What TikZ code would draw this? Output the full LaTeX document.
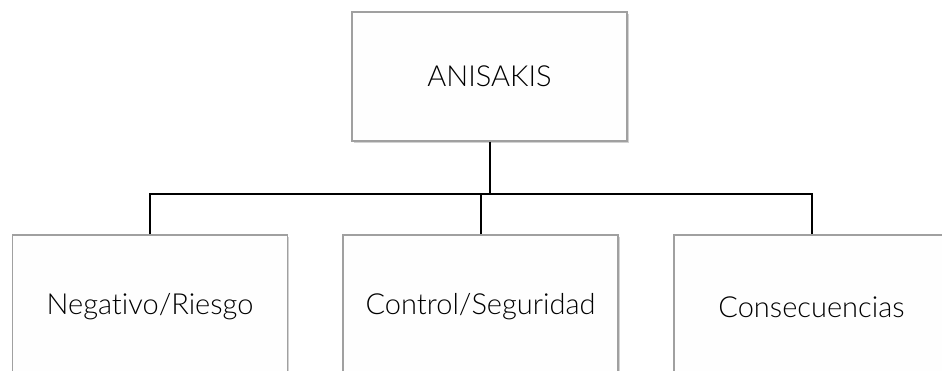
\documentclass[tikz,border=0pt]{standalone}
\usepackage{fontspec}
\setmainfont{Lato Light}[Ligatures={NoCommon}]
\usetikzlibrary{shadows}
\definecolor{boxborder}{HTML}{A0A0A0}
\definecolor{boxfill}{HTML}{FEFEFE}
\tikzset{
  orgbox/.style={draw=boxborder, line width=1.3pt, fill=boxfill,
    minimum width=275pt, minimum height=129pt, inner sep=0pt,
    font=\fontsize{29}{34}\selectfont,
    drop shadow={shadow xshift=1.5pt, shadow yshift=-2pt, opacity=0.35, fill=gray}},
  lowbox/.style={orgbox, minimum height=144pt},
  link/.style={draw=black, line width=2pt}
}
\begin{document}
\begin{tikzpicture}[x=1pt,y=1pt]
\useasboundingbox (0,0) rectangle (942,370);
\clip (0,0) rectangle (942,370);
\fill[white] (0,0) rectangle (942,370);
\node[orgbox] (top) at (489.5,293.5) {ANISAKIS};
\node[lowbox] (b1) at (150,63) {Negativo/Riesgo};
\node[lowbox] (b2) at (480.5,63) {Control/Seguridad};
\node[lowbox] (b3) at (811.5,63) {Consecuencias};
\coordinate (bus) at (0,176);
\draw[link] (top.south) -- (top.south |- bus);
\draw[link] (b1.north) -- (b1.north |- bus) -- (b3.north |- bus) -- (b3.north);
\draw[link] (b2.north) -- (b2.north |- bus);
\end{tikzpicture}
\end{document}
